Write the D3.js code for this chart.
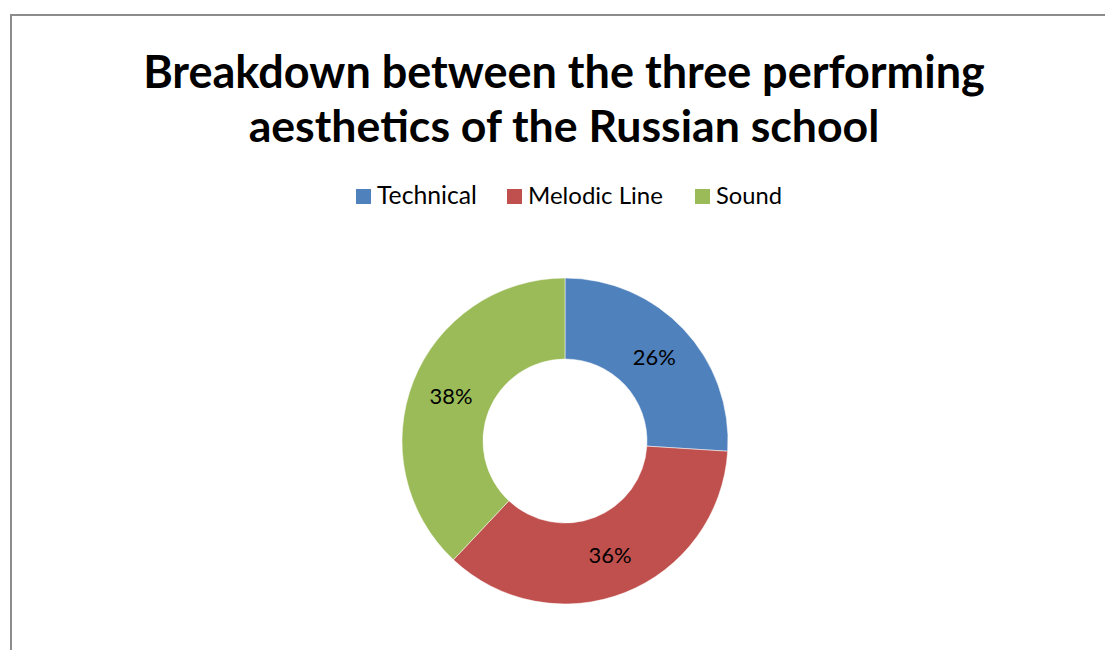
<!DOCTYPE html>
<html><head><meta charset="utf-8">
<script src="https://cdn.jsdelivr.net/npm/d3@7"></script>
<style>body{margin:0;background:#fff;}svg{display:block;}</style>
</head><body>
<svg id="c" width="1105" height="650"></svg>
<script>
const categories = ["Technical", "Melodic Line", "Sound"];
const values = [26, 36, 38];
const colors = ["#4F81BD", "#C0504D", "#9BBB59"];
const titleLines = ["Breakdown between the three performing", "aesthetics of the Russian school"];

const svg = d3.select("#c");
const W = 1105, H = 650;
const font = "Lato, 'Open Sans', 'Liberation Sans', sans-serif";

// scale a text's font size so that it spans a target width
function fit(sel, target) {
  const base = +sel.attr("font-size");
  const w = sel.node().getComputedTextLength();
  if (w > 0) sel.attr("font-size", base * target / w);
  return sel;
}

// outer border
svg.append("rect").attr("x", 11).attr("y", 15).attr("width", W + 20).attr("height", H + 20)
  .attr("fill", "#fff").attr("stroke", "#8c8c8c").attr("stroke-width", 2);

// title
const title = svg.append("g");
const titleY = [88, 142], titleW = [842, 631];
titleLines.forEach((t, i) => {
  const s = title.append("text").attr("x", 564).attr("y", titleY[i])
    .attr("text-anchor", "middle").attr("font-family", font).attr("font-weight", "bold")
    .attr("font-size", 40).attr("fill", "#000").text(t);
  fit(s, titleW[i]);
});

// legend
const legend = svg.append("g");
const legendX = [356, 507, 695];
const legendW = [100, 135, 66];
categories.forEach((c, i) => {
  const g = legend.append("g").attr("transform", `translate(${legendX[i]},189)`);
  g.append("rect").attr("width", 15).attr("height", 15).attr("fill", colors[i]);
  const t = g.append("text").attr("x", 21).attr("y", 14.5).attr("font-family", font).attr("font-size", 22)
    .attr("fill", "#000").text(c);
  fit(t, legendW[i]);
});

// donut
const cx = 565, cy = 441, rO = 163, rI = 82;
const pie = d3.pie().sort(null).value(d => d);
const arcs = pie(values);
const arc = d3.arc().innerRadius(rI).outerRadius(rO);
const labelArc = d3.arc().innerRadius((rI + rO) / 2).outerRadius((rI + rO) / 2);
const total = d3.sum(values);
const color = d3.scaleOrdinal().domain(d3.range(values.length)).range(colors);
const g = svg.append("g").attr("transform", `translate(${cx},${cy})`);
g.selectAll("path").data(arcs).join("path")
  .attr("d", arc).attr("fill", (d, i) => color(i)).attr("stroke", "#fff").attr("stroke-width", 0.5);
const labels = g.selectAll("text").data(arcs).join("text")
  .attr("transform", d => `translate(${labelArc.centroid(d)})`)
  .attr("text-anchor", "middle").attr("dy", "0.36em")
  .attr("font-family", font).attr("font-size", 22).attr("fill", "#000")
  .text(d => d3.format(".0%")(d.data / total));
labels.each(function () { fit(d3.select(this), 43); });
</script>
</body></html>
